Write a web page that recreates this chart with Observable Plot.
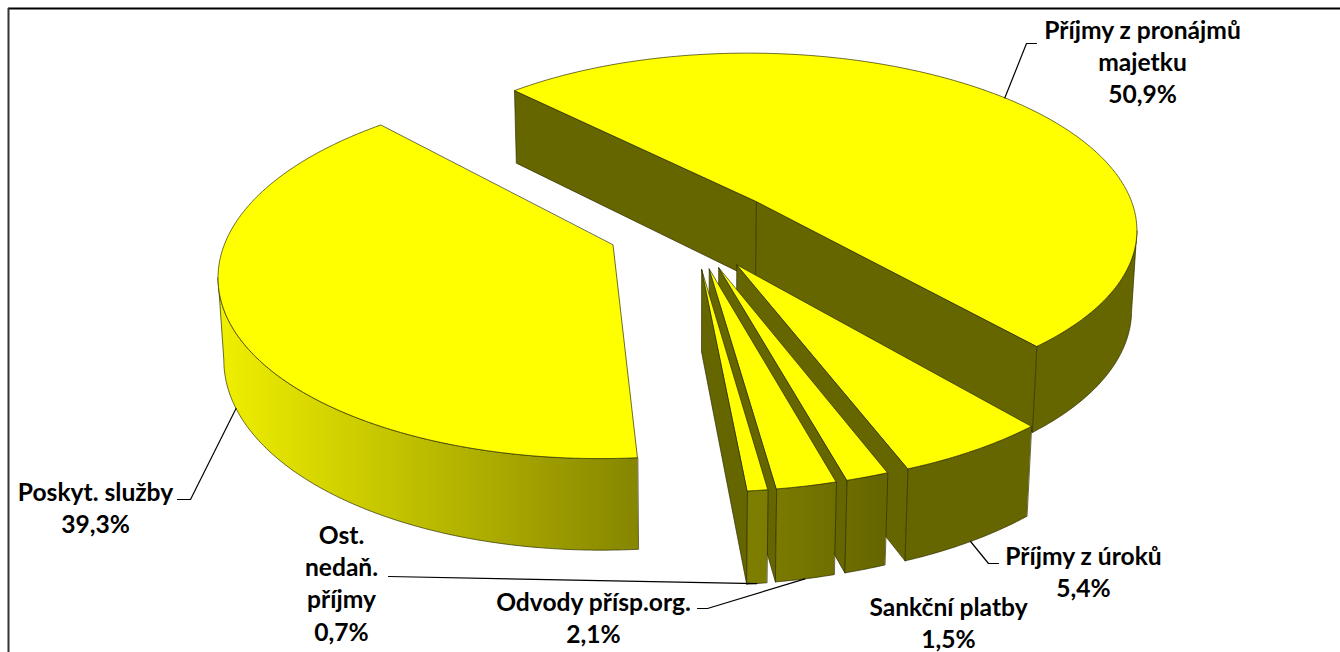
<!DOCTYPE html>
<html><head><meta charset="utf-8">
<style>html,body{margin:0;padding:0;background:#fff;overflow:hidden}svg{display:block}</style>
<script src="https://cdn.jsdelivr.net/npm/d3@7"></script>
<script src="https://cdn.jsdelivr.net/npm/@observablehq/plot@0.6"></script>
</head><body><div id="chart"></div>
<script>
// Data
const names = ["Příjmy z pronájmů\nmajetku","Příjmy z úroků","Sankční platby","Odvody přísp.org.","Ost.\nnedaň.\npříjmy","Poskyt. služby"];
const shares = [50.9,5.4,1.5,2.1,0.7,39.3];
const shareLabels = ["50,9%","5,4%","1,5%","2,1%","0,7%","39,3%"];

// Layout of the 3D view (not data)
const startAngle = -43.8, cx = 689, cy = 229, Ax = 384, Ay = 177.5, tilt = 0.145, depth = 81, depthW = 0.012;
const explode = [0.24,0.225,0.22,0.22,0.22,0.215];
const nudgeX = [0,2,2,2,2,0];
const spin = [0,0,0,0,0,0.7];
const drawOrder = [0,5,1,2,3,4];
const labelX = [1142,1083,948,593,341,95];
const labelY = [30,556,607,602,535,492];
const leaderDepth = [0,1,null,1,1,1];
const leaderVia = [[[1026,43],[1036,43]],[[988,563],[998,563]],[],[[707,608],[697,608]],[[388,576]],[[190,499],[177,499]]];

const rad = d => d*Math.PI/180;
const total = d3.sum(shares);
function project(u,v,z){const w = 1 - tilt*v + depthW*z; return {x: cx + Ax*u/w, y: cy + (Ay*v + depth*z)/w};}
let acc = startAngle;
const slices = shares.map((s,i)=>{const a0=acc+spin[i],a1=acc+spin[i]+s/total*360;acc+=s/total*360;return {i,a0,a1,mid:(a0+a1)/2,e:explode[i]};});
function pt(sl,deg,r,z){const ox=sl.e*Math.sin(rad(sl.mid)),oy=-sl.e*Math.cos(rad(sl.mid));
  const p=project(ox+r*Math.sin(rad(deg)),oy-r*Math.cos(rad(deg)),z);return {x:p.x+nudgeX[sl.i],y:p.y};}
function arc(sl,z){const n=Math.max(2,Math.ceil(sl.a1-sl.a0)*2);return d3.range(n+1).map(k=>pt(sl,sl.a0+(sl.a1-sl.a0)*k/n,1,z));}
const edgeColor="#2e2e00", sideColor="#666600", topColor="#ffff00";
const face=(pts,fill,sw=0.7,st=edgeColor)=>Plot.line(pts,{x:"x",y:"y",fill,stroke:st,strokeWidth:sw,curve:"linear-closed",strokeLinejoin:"round"});
const marks=[];
marks.push(()=>{const d=d3.create("svg:defs");const g=d.append("linearGradient").attr("id","wallGrad").attr("gradientUnits","userSpaceOnUse").attr("x1",225).attr("x2",900).attr("y1",0).attr("y2",0);
  [[0,"#eeee00"],[0.615,"#858500"],[0.8,"#7c7c00"],[0.97,"#666600"]].forEach(([o,c])=>g.append("stop").attr("offset",o).attr("stop-color",c));return d.node();});
for(const i of drawOrder){const sl=slices[i];const t=arc(sl,0),b=arc(sl,1);
  const tip0=pt(sl,sl.a0,0,0),tip1=pt(sl,sl.a0,0,1);
  const e=t[t.length-1],eb=b[b.length-1];
  // cut faces, only those turned towards the viewer
  if(t[0].x<tip0.x) marks.push(face([tip0,t[0],b[0],tip1],sideColor));
  if(tip0.x<e.x) marks.push(face([e,tip0,tip1,eb],sideColor));
  // outer wall: part of the arc running right to left
  const vis=d3.range(t.length).filter(k=>k>0&&t[k].x<t[k-1].x);
  if(vis.length){const k0=vis[0]-1,k1=vis[vis.length-1];
    marks.push(face([...t.slice(k0,k1+1),...b.slice(k0,k1+1).reverse()],"url(#wallGrad)"));}
  marks.push(face([tip0,...t],topColor));
}
// leaders
slices.forEach((sl,i)=>{ if(leaderDepth[i]==null) return;
  const p=pt(sl,sl.mid,1,leaderDepth[i]);
  marks.push(Plot.line([p,...leaderVia[i].map(([x,y])=>({x,y}))],{x:"x",y:"y",stroke:"#000",strokeWidth:1.2}));});
// labels
const labels=names.map((n,i)=>({t:n+"\n"+shareLabels[i],x:labelX[i],y:labelY[i]}));
marks.push(Plot.text(labels,{x:"x",y:"y",text:"t",lineAnchor:"top",dy:-15,textAnchor:"middle",lineHeight:1.32,fontSize:24.6,fontWeight:"bold",fontFamily:"Lato",fill:"#000"}));
// frame
marks.unshift(Plot.ruleY([8],{x1:8,x2:1340,stroke:"#000",strokeWidth:2}),Plot.ruleX([8],{y1:8,y2:652,stroke:"#333",strokeWidth:2}));
const chart=Plot.plot({width:1340,height:652,margin:0,x:{domain:[0,1340],range:[0,1340],axis:null},y:{domain:[0,652],range:[0,652],axis:null},style:{background:"#fff"},marks});
document.getElementById("chart").append(chart);
</script></body></html>
